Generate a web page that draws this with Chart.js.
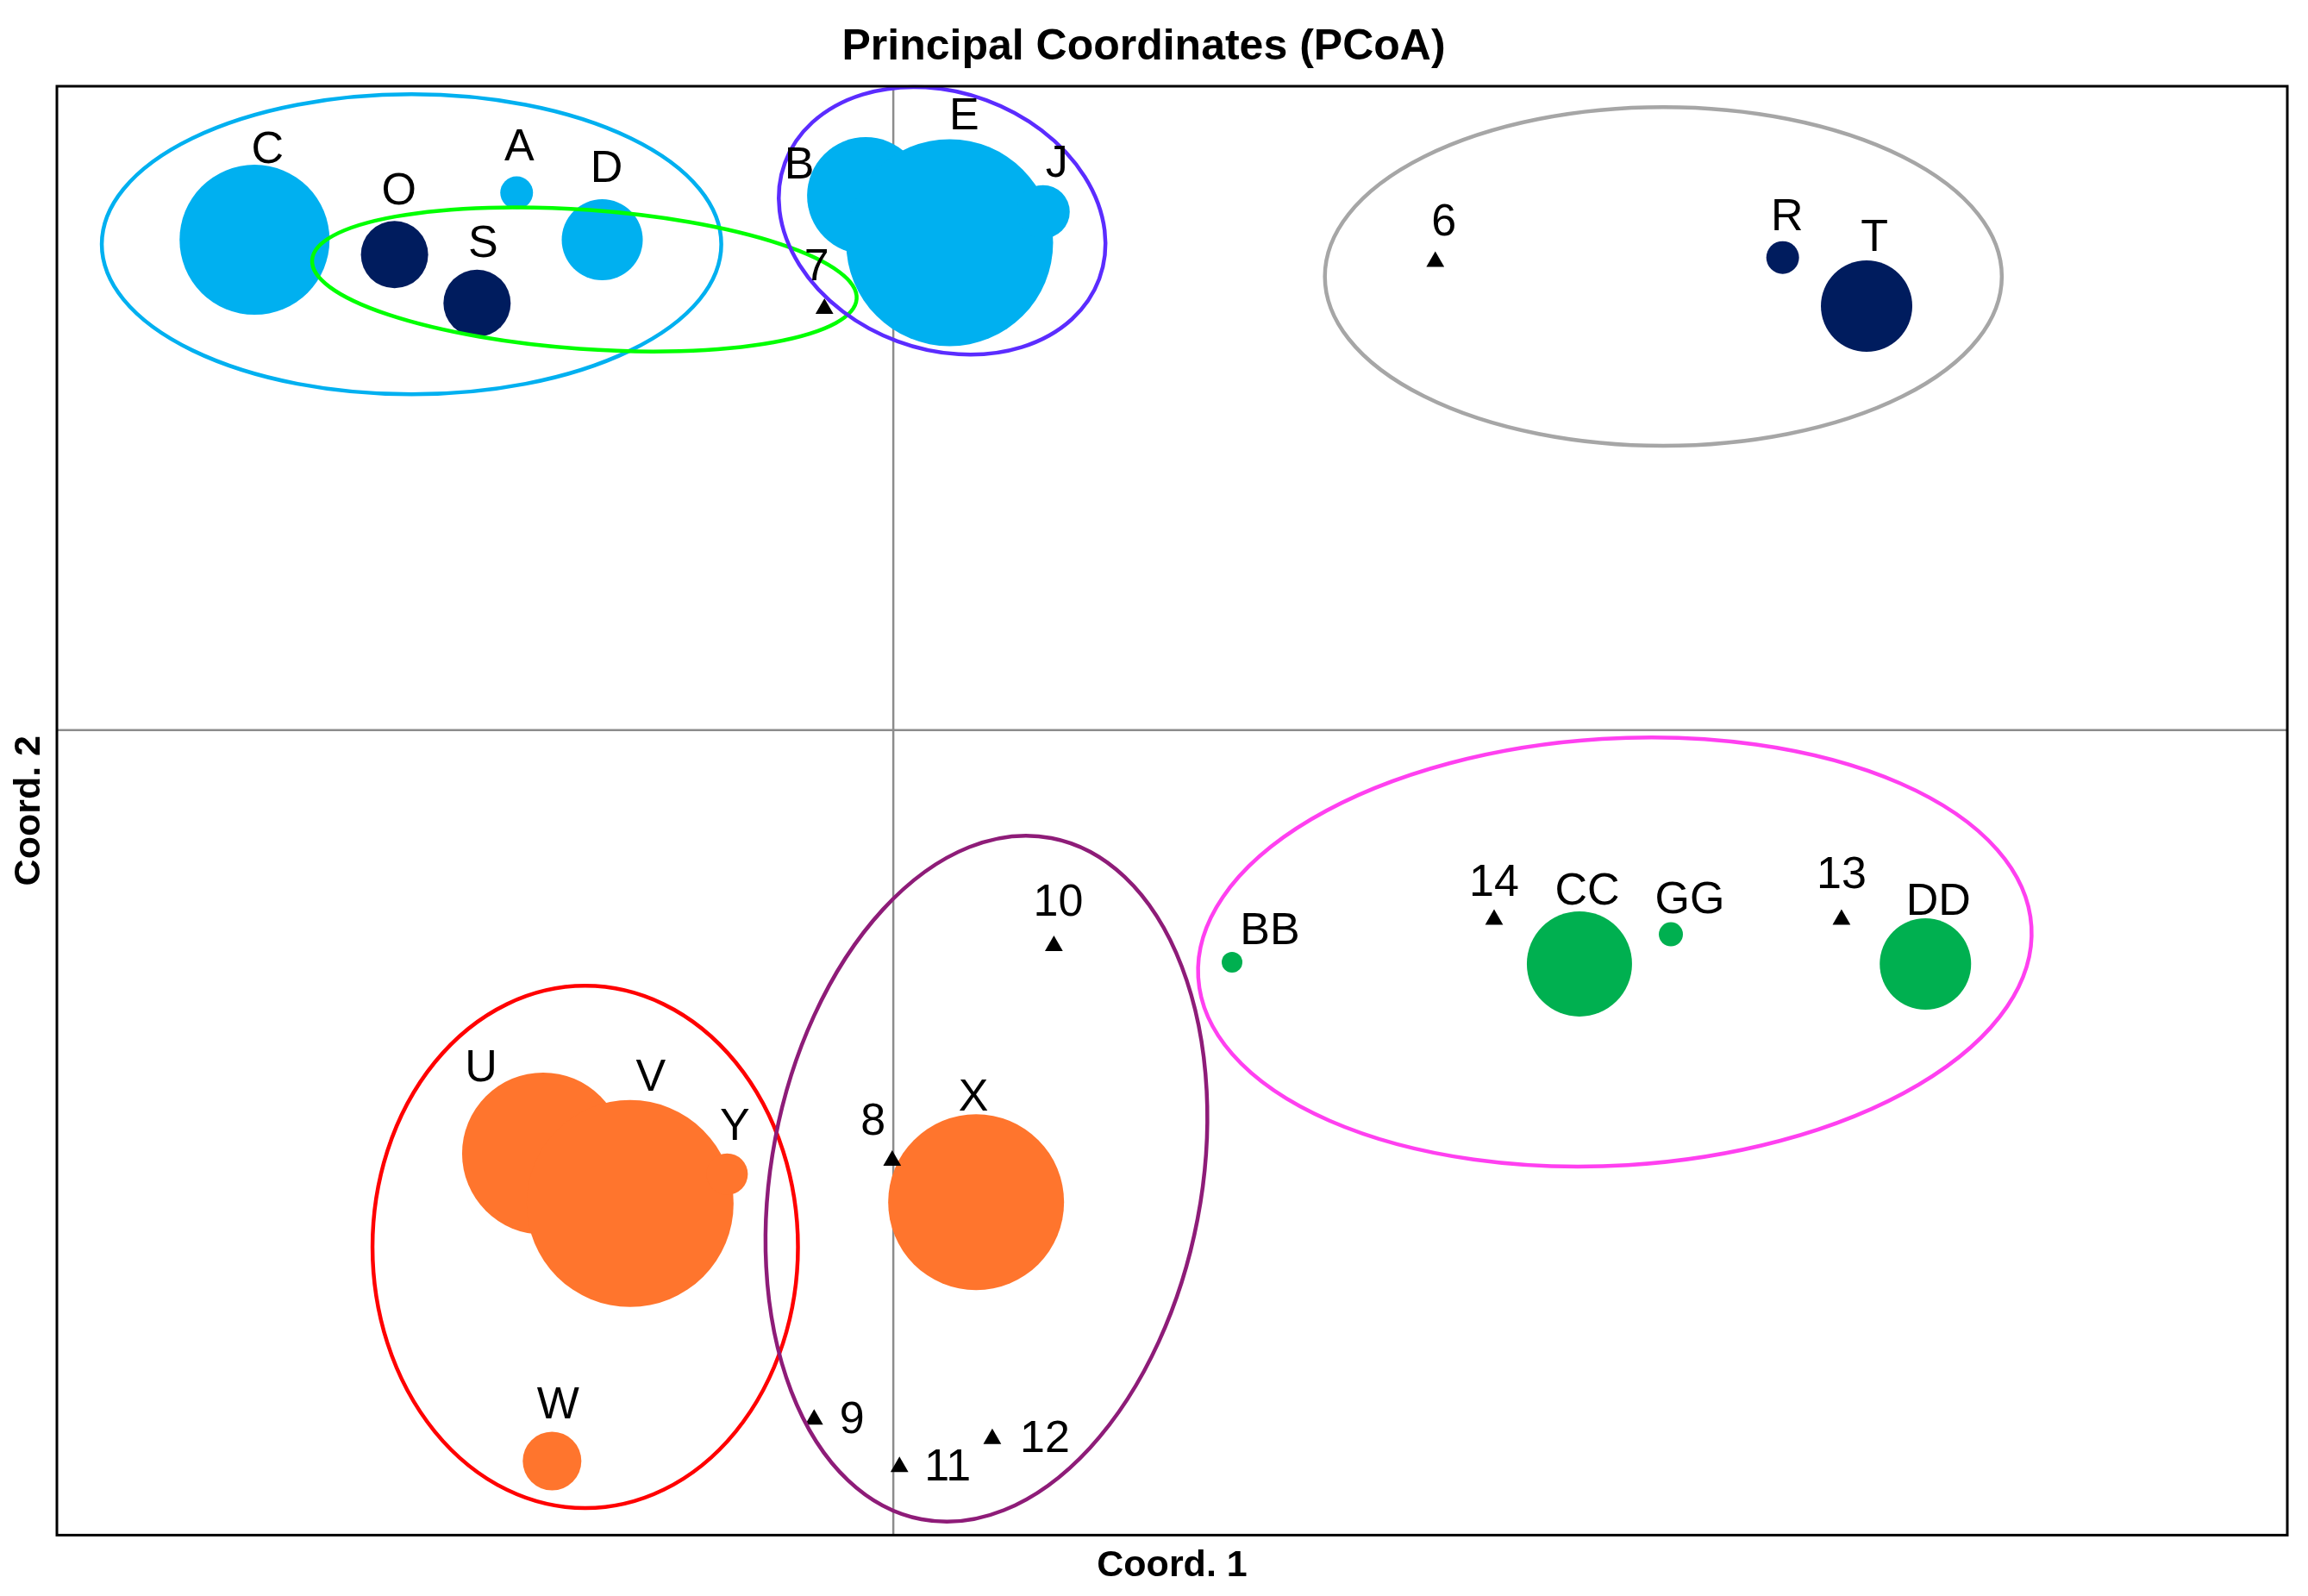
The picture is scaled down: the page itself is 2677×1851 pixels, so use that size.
<!DOCTYPE html>
<html>
<head>
<meta charset="utf-8">
<title>PCoA</title>
<script src="https://cdn.jsdelivr.net/npm/chart.js@4.4.1/dist/chart.umd.min.js"></script>
<style>
  html, body { margin: 0; padding: 0; background: #fff; }
  #wrap { width: 2677px; height: 1851px; }
</style>
</head>
<body>
<div id="wrap"><canvas id="pcoa"></canvas></div>
<script>
// samples drawn as bubbles
var sampleNames = ['A', 'B', 'C', 'D', 'E', 'J', 'O', 'R', 'S', 'T', 'U', 'V', 'W', 'X', 'Y', 'BB', 'CC', 'DD', 'GG'];
var coord1 = [-0.1351, -0.0099, -0.2291, -0.1044, 0.0202, 0.0537, -0.1789, 0.3190, -0.1493, 0.3491,
              -0.1256, -0.0944, -0.1224, 0.0297, -0.0596, 0.1215, 0.2461, 0.3702, 0.2789];
var coord2 = [0.1669, 0.1660, 0.1523, 0.1523, 0.1514, 0.1610, 0.1477, 0.1468, 0.1326, 0.1317,
              -0.1315, -0.1470, -0.2270, -0.1466, -0.1379, -0.0721, -0.0726, -0.0726, -0.0634];
var bubbleSize = [19, 68, 87, 47, 120, 31, 39, 19, 39, 53, 94, 120, 34, 102, 24, 12, 61, 53, 14];
var sampleGroup = ['blue', 'blue', 'blue', 'blue', 'blue', 'blue', 'navy', 'navy', 'navy', 'navy',
                   'orange', 'orange', 'orange', 'orange', 'orange', 'green', 'green', 'green', 'green'];

// numbered points drawn as triangles
var markerNames = ['6', '7', '8', '9', '10', '11', '12', '13', '14'];
var markerCoord1 = [0.1944, -0.0247, -0.0004, -0.0284, 0.0576, 0.0022, 0.0355, 0.3401, 0.2155];
var markerCoord2 = [0.1455, 0.1309, -0.1337, -0.2141, -0.0670, -0.2288, -0.2201, -0.0588, -0.0588];

// group ellipses (centre and semi-axes in axis units, angle in degrees)
var ellipseCx = [-0.1728, -0.1108, 0.0175, 0.2762, 0.2588, -0.1105, 0.0334];
var ellipseCy = [0.1509, 0.1400, 0.1582, 0.1409, -0.0689, -0.1605, -0.1393];
var ellipseRx = [0.1111, 0.0979, 0.0601, 0.1214, 0.1497, 0.0763, 0.0771];
var ellipseRy = [0.0466, 0.0216, 0.0399, 0.0526, 0.0663, 0.0811, 0.1077];
var ellipseAngle = [0, 4.1, 20.3, 0, -3.5, 0, 10.8];
var ellipseColor = ['#00B0F0', '#00FF00', '#5B2CFF', '#A6A6A6', '#FF40F0', '#FF0000', '#8E1C78'];

var groupColor = { blue: '#00B0F0', navy: '#001C5E', orange: '#FF752D', green: '#00B050' };

// where each name sits relative to its point, in pixels
var labelOffset = {
  C: [15, -103], O: [5, -73], A: [3, -52], D: [5, -81], S: [7, -68],
  B: [-77, -34], E: [17, -146], J: [16, -55], '7': [-9, -47], '6': [10, -45],
  R: [5, -46], T: [9, -78], BB: [44, -35], '14': [0, -42], CC: [9, -83],
  GG: [22, -39], '13': [0, -51], DD: [15, -71], '10': [5, -49], U: [-72, -98],
  V: [24, -145], Y: [9, -54], X: [-3, -121], '8': [-22, -44], W: [7, -64],
  '9': [44, 1], '11': [56, 1], '12': [61, 1]
};

var FONT = '"Liberation Sans", Arial, sans-serif';

var datasets = [];
datasets.push({
  type: 'scatter',
  names: markerNames,
  data: markerNames.map(function(n, i) { return { x: markerCoord1[i], y: markerCoord2[i] }; }),
  pointStyle: 'triangle',
  pointRadius: 12,
  pointHoverRadius: 12,
  backgroundColor: '#000',
  borderColor: '#000',
  borderWidth: 0,
  showLine: false
});
['navy', 'green', 'orange', 'blue'].forEach(function(g) {
  var names = [], pts = [];
  for (var i = 0; i < sampleNames.length; i++) {
    if (sampleGroup[i] !== g) continue;
    names.push(sampleNames[i]);
    pts.push({ x: coord1[i], y: coord2[i], r: bubbleSize[i] });
  }
  datasets.push({
    type: 'bubble',
    names: names,
    data: pts,
    backgroundColor: groupColor[g],
    borderWidth: 0,
    hoverBorderWidth: 0,
    hoverRadius: 0
  });
});

var zeroLines = {
  id: 'zeroLines',
  beforeDatasetsDraw: function(chart) {
    var ctx = chart.ctx, a = chart.chartArea;
    var x0 = chart.scales.x.getPixelForValue(0);
    var y0 = chart.scales.y.getPixelForValue(0);
    ctx.save();
    ctx.strokeStyle = '#8C8C8C';
    ctx.lineWidth = 2.5;
    ctx.beginPath();
    ctx.moveTo(x0, a.top); ctx.lineTo(x0, a.bottom);
    ctx.moveTo(a.left, y0); ctx.lineTo(a.right, y0);
    ctx.stroke();
    ctx.restore();
  }
};

var groupEllipses = {
  id: 'groupEllipses',
  afterDatasetsDraw: function(chart) {
    var ctx = chart.ctx, xs = chart.scales.x, ys = chart.scales.y;
    ctx.save();
    ctx.lineWidth = 4.5;
    for (var i = 0; i < ellipseCx.length; i++) {
      var cx = xs.getPixelForValue(ellipseCx[i]);
      var cy = ys.getPixelForValue(ellipseCy[i]);
      var rx = Math.abs(xs.getPixelForValue(ellipseCx[i] + ellipseRx[i]) - cx);
      var ry = Math.abs(ys.getPixelForValue(ellipseCy[i] + ellipseRy[i]) - cy);
      ctx.strokeStyle = ellipseColor[i];
      ctx.beginPath();
      ctx.ellipse(cx, cy, rx, ry, ellipseAngle[i] * Math.PI / 180, 0, Math.PI * 2);
      ctx.stroke();
    }
    ctx.restore();
  }
};

var pointLabels = {
  id: 'pointLabels',
  afterDatasetsDraw: function(chart) {
    var ctx = chart.ctx;
    ctx.save();
    ctx.font = '52px ' + FONT;
    ctx.fillStyle = '#000';
    ctx.textAlign = 'center';
    ctx.textBaseline = 'middle';
    chart.data.datasets.forEach(function(ds, i) {
      chart.getDatasetMeta(i).data.forEach(function(pt, j) {
        var name = ds.names[j];
        var off = labelOffset[name] || [0, -40];
        ctx.fillText(name, pt.x + off[0], pt.y + off[1]);
      });
    });
    ctx.restore();
  }
};

var frame = {
  id: 'frame',
  afterDraw: function(chart) {
    var ctx = chart.ctx, a = chart.chartArea;
    ctx.save();
    ctx.strokeStyle = '#000';
    ctx.lineWidth = 3;
    ctx.strokeRect(a.left, a.top, a.right - a.left, a.bottom - a.top);
    ctx.restore();
  }
};

var ctx = document.getElementById('pcoa').getContext('2d');
var myChart = new Chart(ctx, {
  type: 'bubble',
  data: { datasets: datasets },
  options: {
    responsive: true,
    maintainAspectRatio: false,
    animation: false,
    events: [],
    layout: { autoPadding: false, padding: { right: 24 } },
    plugins: {
      legend: { display: false },
      tooltip: { enabled: false },
      title: {
        display: true,
        text: 'Principal Coordinates (PCoA)',
        color: '#000',
        font: { family: FONT, size: 50, weight: 'bold' },
        padding: { top: 25, bottom: 15 }
      }
    },
    scales: {
      x: {
        type: 'linear',
        min: -0.3,
        max: 0.5,
        ticks: { display: false },
        grid: { display: false, drawTicks: false },
        border: { display: false },
        title: {
          display: true,
          text: 'Coord. 1',
          color: '#000',
          font: { family: FONT, size: 43, weight: 'bold' },
          padding: { top: 10, bottom: 9 }
        }
      },
      y: {
        type: 'linear',
        min: -0.25,
        max: 0.2,
        ticks: { display: false },
        grid: { display: false, drawTicks: false },
        border: { display: false },
        title: {
          display: true,
          text: 'Coord. 2',
          color: '#000',
          font: { family: FONT, size: 43, weight: 'bold' },
          padding: { top: 8, bottom: 6.4 }
        }
      }
    }
  },
  plugins: [zeroLines, groupEllipses, pointLabels, frame]
});
</script>
</body>
</html>
